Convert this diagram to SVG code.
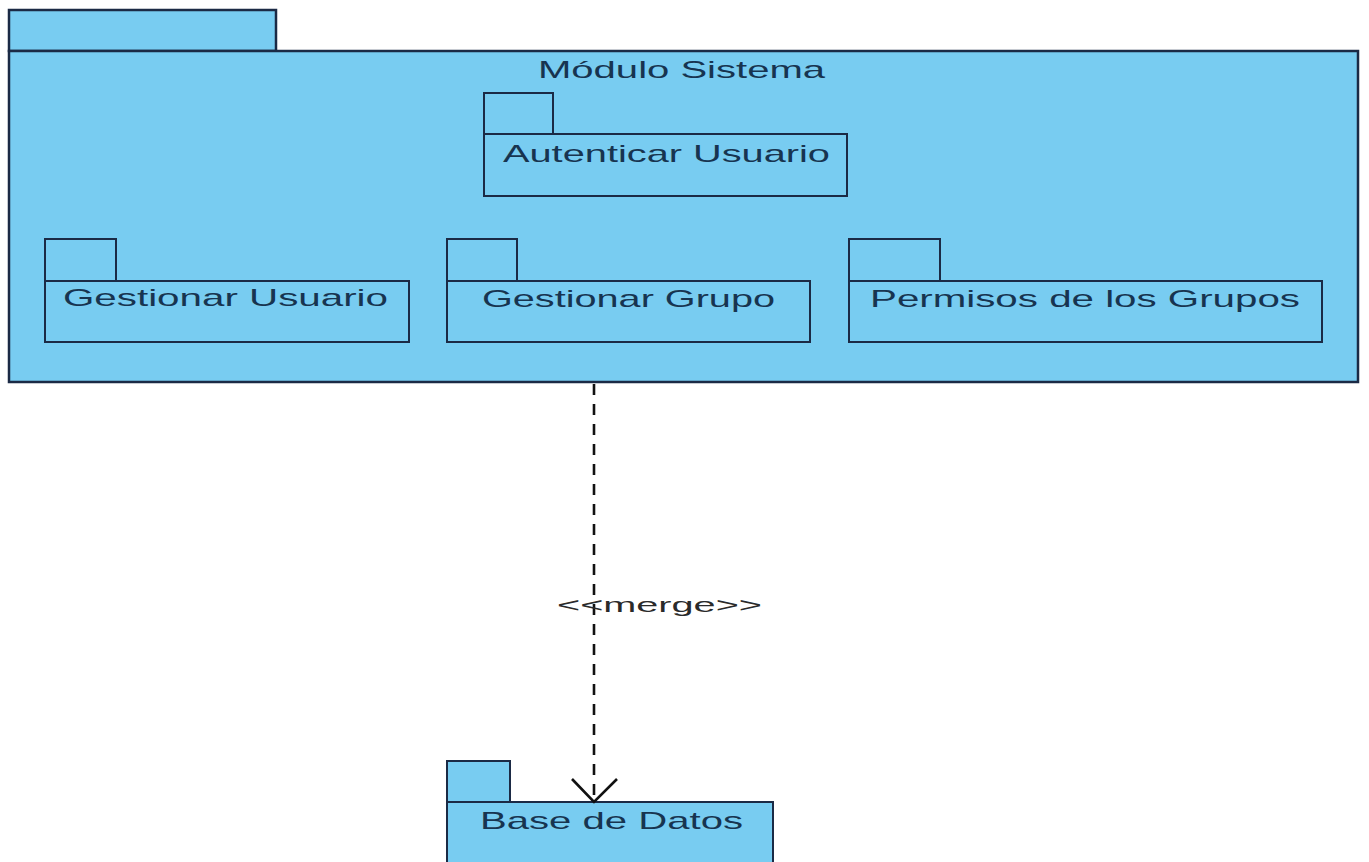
<svg xmlns="http://www.w3.org/2000/svg" width="1369" height="862" viewBox="0 0 1369 862">
  <style>
    .pkg { fill: #78CCF1; stroke: #1B2A45; stroke-width: 2; }
    .outer { stroke-width: 2.5; }
    .lbl { font-family: "Liberation Sans", Arial, sans-serif; font-size: 24px; fill: #173450; }
    .conn { fill: none; stroke: #111111; stroke-width: 2.6; }
    .stereo { font-family: "Liberation Sans", Arial, sans-serif; font-size: 20px; fill: #2a2a2a; }
  </style>
  <rect width="1369" height="862" fill="#ffffff"/>

  <!-- container package -->
  <g id="modulo-sistema">
    <rect class="pkg outer" x="9" y="10" width="267" height="41"/>
    <rect class="pkg outer" x="9" y="51" width="1349" height="331"/>
    <text class="lbl" x="538" y="78" textLength="287" lengthAdjust="spacingAndGlyphs">Módulo Sistema</text>
  </g>

  <g id="autenticar-usuario">
    <rect class="pkg" x="484" y="93" width="69" height="41"/>
    <rect class="pkg" x="484" y="134" width="363" height="62"/>
    <text class="lbl" x="503" y="162" textLength="327" lengthAdjust="spacingAndGlyphs">Autenticar Usuario</text>
  </g>

  <g id="gestionar-usuario">
    <rect class="pkg" x="45" y="239" width="71" height="42"/>
    <rect class="pkg" x="45" y="281" width="364" height="61"/>
    <text class="lbl" x="63" y="306" textLength="325" lengthAdjust="spacingAndGlyphs">Gestionar Usuario</text>
  </g>

  <g id="gestionar-grupo">
    <rect class="pkg" x="447" y="239" width="70" height="42"/>
    <rect class="pkg" x="447" y="281" width="363" height="61"/>
    <text class="lbl" x="482" y="307" textLength="293" lengthAdjust="spacingAndGlyphs">Gestionar Grupo</text>
  </g>

  <g id="permisos-grupos">
    <rect class="pkg" x="849" y="239" width="91" height="42"/>
    <rect class="pkg" x="849" y="281" width="473" height="61"/>
    <text class="lbl" x="870" y="307" textLength="430" lengthAdjust="spacingAndGlyphs">Permisos de los Grupos</text>
  </g>

  <g id="base-de-datos">
    <rect class="pkg" x="447" y="761" width="63" height="41"/>
    <rect class="pkg" x="447" y="802" width="326" height="70"/>
    <text class="lbl" x="480" y="829" textLength="263" lengthAdjust="spacingAndGlyphs">Base de Datos</text>
  </g>

  <!-- merge dependency -->
  <g id="connectors">
    <line class="conn" x1="594" y1="384" x2="594" y2="800" stroke-dasharray="11 9"/>
    <polyline class="conn" points="572,779 594,802 617,779"/>
    <text class="stereo" x="557" y="612" textLength="205" lengthAdjust="spacingAndGlyphs">&lt;&lt;merge&gt;&gt;</text>
  </g>
</svg>
